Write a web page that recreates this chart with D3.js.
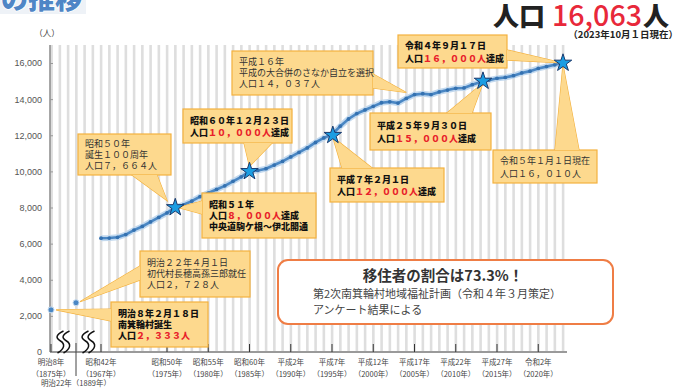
<!DOCTYPE html>
<html>
<head>
<meta charset="utf-8">
<script src="https://cdn.jsdelivr.net/npm/d3@7"></script>
<style>
body { margin: 0; background: #fff; }
text { font-family: "Noto Sans CJK JP", "Noto Sans", sans-serif; }
</style>
</head>
<body>
<div id="chart"></div>
<script>
// yearly population (昭和42年 - 令和5年)
var years = d3.range(1967, 2024);
var population = [6300, 6310, 6350, 6500, 6750, 6950, 7200, 7450, 7700, 8000,
	8150, 8350, 8600, 8800, 9000, 9200, 9450, 9700, 10000, 10050,
	10150, 10350, 10550, 10800, 11050, 11300, 11600, 11850, 12050, 12500,
	12900, 13200, 13400, 13600, 13800, 13850, 13780, 14037, 14250, 14300,
	14250, 14400, 14500, 14600, 14620, 14800, 14950, 15050, 15150, 15200,
	15300, 15450, 15550, 15700, 15800, 15900, 16010];
// early points (明治8年, 明治22年)
var earlyYears = [1875, 1889];
var earlyPop = [2333, 2728];
// milestones (stars)
var starYears = [1976, 1985, 1995.1, 2013.3, 2023];
var starPop = [8000, 10000, 12000, 15000, 16000];

var yTicks = [0, 2000, 4000, 6000, 8000, 10000, 12000, 14000, 16000];
var xTicks = [1875, 1967, 1975, 1980, 1985, 1990, 1995, 2000, 2005, 2010, 2015, 2020];
var xTickEra = ["明治8年", "昭和42年", "昭和50年", "昭和55年", "昭和60年", "平成2年", "平成7年", "平成12年", "平成17年", "平成22年", "平成27年", "令和2年"];
var xTickLabel2 = ["（1875年）", "（1967年）", "（1975年）", "（1980年）", "（1985年）", "（1990年）", "（1995年）", "（2000年）", "（2005年）", "（2010年）", "（2015年）", "（2020年）"];

// callout texts: each line is a list of [text, red?]
var notes = [
	{year: 2004, value: 14037, bold: false, lines: [[["平成１６年"]], [["平成の大合併のさなか自立を選択"]], [["人口１４，０３７人"]]]},
	{year: 2023, value: 16000, bold: true, lines: [[["令和４年９月１７日"]], [["人口"], ["１６，０００人", 1], ["達成"]]]},
	{year: 1985, value: 10000, bold: true, lines: [[["昭和６０年１２月２３日"]], [["人口"], ["１０，０００人", 1], ["達成"]]]},
	{year: 1975, value: 7664, bold: false, lines: [[["昭和５０年"]], [["誕生１００周年"]], [["人口７，６６４人"]]]},
	{year: 1976, value: 8000, bold: true, lines: [[["昭和５１年"]], [["人口"], ["８，０００人", 1], ["達成"]], [["中央道駒ケ根～伊北開通"]]]},
	{year: 1995.1, value: 12000, bold: true, lines: [[["平成７年２月１日"]], [["人口"], ["１２，０００人", 1], ["達成"]]]},
	{year: 2013.3, value: 15000, bold: true, lines: [[["平成２５年９月３０日"]], [["人口"], ["１５，０００人", 1], ["達成"]]]},
	{year: 2023, value: 16000, bold: false, lines: [[["令和５年１月１日現在"]], [["人口１６，０１０人"]]]},
	{year: 1889, value: 2728, bold: false, lines: [[["明治２２年４月１日"]], [["初代村長穂高孫三郎就任"]], [["人口２，７２８人"]]]},
	{year: 1875, value: 2333, bold: true, lines: [[["明治８年２月１８日"]], [["南箕輪村誕生"]], [["人口"], ["２，３３３人", 1]]]}
];

var width = 690, height = 390;
var svg = d3.select("#chart").append("svg").attr("width", width).attr("height", height);

var x = d3.scaleLinear().domain([1875, 1889, 1967, 2023]).range([51, 76, 101, 563]);
var xm = d3.scaleLinear().domain([1967, 2023]).range([101, 563]);
var y = d3.scaleLinear().domain([0, 16000]).range([352, 63]);

// title remnant top-left
svg.append("rect").attr("x", 0).attr("y", 0).attr("width", 86).attr("height", 14).style("fill", "#eef2f7");
svg.append("text")
	.attr("x", 82).attr("y", 9)
	.attr("text-anchor", "end")
	.attr("font-size", "27px").attr("font-weight", 900)
	.style("fill", "#4f86c6").style("stroke", "#fff").style("stroke-width", 1.5).style("paint-order", "stroke")
	.text("人口の推移");

// striped background
var stripeYears = d3.range(1961, 2024);
svg.append("g").selectAll("rect")
	.data(stripeYears).enter()
	.append("rect")
	.attr("x", function(d){ return xm(d) - 1.2; })
	.attr("y", 45)
	.attr("width", 2.6)
	.attr("height", 352 - 45)
	.style("fill", "#dedede");

// y axis
var yAxis = d3.axisLeft(y).tickValues(yTicks).tickFormat(d3.format(",")).tickSizeInner(-3).tickSizeOuter(0).tickPadding(8);
var gy = svg.append("g").attr("transform", "translate(50,0)").call(yAxis);
gy.select(".domain").attr("d", "M0,45V352").style("stroke", "#8a8a8a").style("stroke-width", 1.5);
gy.selectAll(".tick line").style("stroke", "#999");
gy.selectAll(".tick text").style("font-family", "Liberation Sans, Arial, sans-serif").style("font-size", "9px").style("fill", "#555");

svg.append("text").attr("x", 47).attr("y", 36).attr("text-anchor", "middle")
	.attr("font-size", "8.5px").style("fill", "#444").text("（人）");

// x axis
svg.append("line").attr("x1", 50).attr("x2", 567).attr("y1", 352).attr("y2", 352)
	.style("stroke", "#9a9a9a").style("stroke-width", 2);
svg.append("g").selectAll("line")
	.data(xTicks).enter()
	.append("line")
	.attr("x1", function(d){ return x(d); })
	.attr("x2", function(d){ return x(d); })
	.attr("y1", 344).attr("y2", 352)
	.style("stroke", "#333").style("stroke-width", 1);
var xl = svg.append("g").selectAll("g").data(xTicks).enter().append("g")
	.attr("transform", function(d){ return "translate(" + x(d) + ",0)"; });
xl.append("text").attr("y", 365).attr("text-anchor", "middle").attr("font-size", "7.5px").style("fill", "#444")
	.text(function(d, i){ return xTickEra[i]; });
xl.append("text").attr("y", 377).attr("text-anchor", "middle").attr("font-size", "7.5px").style("fill", "#444")
	.text(function(d, i){ return xTickLabel2[i]; });

// 1889 marker below axis
svg.append("line").attr("x1", x(1889)).attr("x2", x(1889)).attr("y1", 343).attr("y2", 376)
	.style("stroke", "#444").style("stroke-width", 1);
svg.append("text").attr("x", x(1889)).attr("y", 386).attr("text-anchor", "middle")
	.attr("font-size", "7.5px").style("fill", "#444").text("明治22年（1889年）");

// axis break squiggles
function squiggle(cx){
	var g = svg.append("g");
	g.append("rect").attr("x", cx - 8).attr("y", 330).attr("width", 16).attr("height", 21).style("fill", "#fff");
	[-3, 3].forEach(function(dx){
		g.append("path")
			.attr("d", "M" + (cx + dx + 3) + ",331 C" + (cx + dx - 5) + ",335 " + (cx + dx - 5) + ",338 " + (cx + dx) + ",341 C" + (cx + dx + 5) + ",344 " + (cx + dx + 4) + ",349 " + (cx + dx - 3) + ",353")
			.style("fill", "none").style("stroke", "#111").style("stroke-width", 1.5);
	});
}
squiggle(x(1882));
squiggle(x(1928));

// population line
var line = d3.line().x(function(d){ return x(d[0]); }).y(function(d){ return y(d[1]); });
var pts = d3.zip(years, population);
svg.append("path").datum(pts).attr("d", line)
	.style("fill", "none").style("stroke", "#c3d9ee").style("stroke-width", 6);
svg.append("path").datum(pts).attr("d", line)
	.style("fill", "none").style("stroke", "#4a87c4").style("stroke-width", 2.6);
svg.append("g").selectAll("circle").data(pts).enter().append("circle")
	.attr("cx", function(d){ return x(d[0]); })
	.attr("cy", function(d){ return y(d[1]); })
	.attr("r", 1.9)
	.style("fill", "#3471b0");
svg.append("g").selectAll("circle").data(d3.zip(earlyYears, earlyPop)).enter().append("circle")
	.attr("cx", function(d){ return x(d[0]); })
	.attr("cy", function(d){ return y(d[1]); })
	.attr("r", 3)
	.style("fill", "#4a87c4").style("stroke", "#c3d9ee").style("stroke-width", 1);

// callouts: box layout and tail base, tip taken from the data point
var boxes = [
	{bx: 232, by: 51, bw: 141, bh: 44, base: [[373, 74], [373, 88]], tip: [0, -6]},
	{bx: 398, by: 35, bw: 109, bh: 33, base: [[507, 50], [507, 60]], tip: [0, 0]},
	{bx: 183, by: 109, bw: 109, bh: 34, base: [[244, 143], [272, 143]], tip: [0, -5]},
	{bx: 78, by: 134, bw: 93, bh: 41, base: [[132, 175], [157, 175]], tip: [0, -13]},
	{bx: 202, by: 193, bw: 114, bh: 45, base: [[202, 201], [202, 214]], tip: [3, 0]},
	{bx: 330, by: 168, bw: 114, bh: 34, base: [[342, 168], [372, 168]], tip: [0, 2]},
	{bx: 370, by: 113, bw: 121, bh: 37, base: [[447, 113], [472, 113]], tip: [0, 2]},
	{bx: 493, by: 150, bw: 104, bh: 33, base: [[555, 150], [579, 150]], tip: [0, 2]},
	{bx: 140, by: 251, bw: 110, bh: 46, base: [[140, 266], [140, 280]], tip: [4, -1]},
	{bx: 111, by: 302, bw: 97, bh: 45, base: [[111, 309], [111, 321]], tip: [5, 0]}
];

function drawNote(n, b){
	var g = svg.append("g");
	var tx = x(n.year) + b.tip[0], ty = y(n.value) + b.tip[1];
	var tri = "M" + b.base[0][0] + "," + b.base[0][1] + "L" + tx + "," + ty + "L" + b.base[1][0] + "," + b.base[1][1] + "Z";
	g.append("path").attr("d", tri).style("fill", "#fdd98e").style("stroke", "#f3b13f").style("stroke-width", 1.2);
	g.append("rect").attr("x", b.bx).attr("y", b.by).attr("width", b.bw).attr("height", b.bh)
		.style("fill", "#fdd98e").style("stroke", "#f3b13f").style("stroke-width", 1.2);
	g.append("path").attr("d", tri).style("fill", "#fdd98e");
	var lh = n.lines.length == 3 ? 11 : 12.5;
	var top = b.by + (b.bh - lh * n.lines.length) / 2 + lh - 2.5;
	n.lines.forEach(function(ln, i){
		var t = g.append("text").attr("x", b.bx + 7).attr("y", top + i * lh)
			.attr("font-size", "9px")
			.attr("font-weight", n.bold ? 900 : 400)
			.style("fill", n.bold ? "#111" : "#333");
		ln.forEach(function(seg){
			t.append("tspan").style("fill", seg[1] ? "#e8202a" : null).text(seg[0]);
		});
	});
}

notes.forEach(function(n, i){ drawNote(n, boxes[i]); });

// stars
svg.append("g").selectAll("path").data(d3.zip(starYears, starPop)).enter().append("path")
	.attr("d", d3.symbol(d3.symbolStar, 95))
	.attr("transform", function(d){ return "translate(" + x(d[0]) + "," + y(d[1]) + ")"; })
	.style("fill", "#1b9de2").style("stroke", "#1a3a6e").style("stroke-width", 1);

// info box
svg.append("rect").attr("x", 278).attr("y", 260).attr("width", 335).attr("height", 64).attr("rx", 10)
	.style("fill", "#fff").style("stroke", "#ef7d45").style("stroke-width", 2);
svg.append("text").attr("x", 443).attr("y", 281).attr("text-anchor", "middle")
	.attr("font-size", "14.5px").attr("font-weight", 700).style("fill", "#333")
	.text("移住者の割合は73.3%！");
svg.append("text").attr("x", 313).attr("y", 298).attr("font-size", "11px").style("fill", "#444")
	.text("第2次南箕輪村地域福祉計画（令和４年３月策定）");
svg.append("text").attr("x", 313).attr("y", 314).attr("font-size", "11px").style("fill", "#444")
	.text("アンケート結果による");

// headline
svg.append("text").attr("x", 493).attr("y", 26).attr("font-size", "26px").attr("font-weight", 900)
	.style("fill", "#222").text("人口");
svg.append("text").attr("x", 552).attr("y", 26).attr("font-size", "29px").attr("font-weight", 500)
	.attr("textLength", 90).attr("lengthAdjust", "spacingAndGlyphs")
	.style("fill", "#e8283a").text("16,063");
svg.append("text").attr("x", 643).attr("y", 26).attr("font-size", "26px").attr("font-weight", 900)
	.style("fill", "#222").text("人");
svg.append("text").attr("x", 678).attr("y", 38).attr("text-anchor", "end")
	.attr("font-size", "9.5px").attr("font-weight", 700).style("fill", "#222")
	.text("（2023年10月１日現在）");
</script>
</body>
</html>
